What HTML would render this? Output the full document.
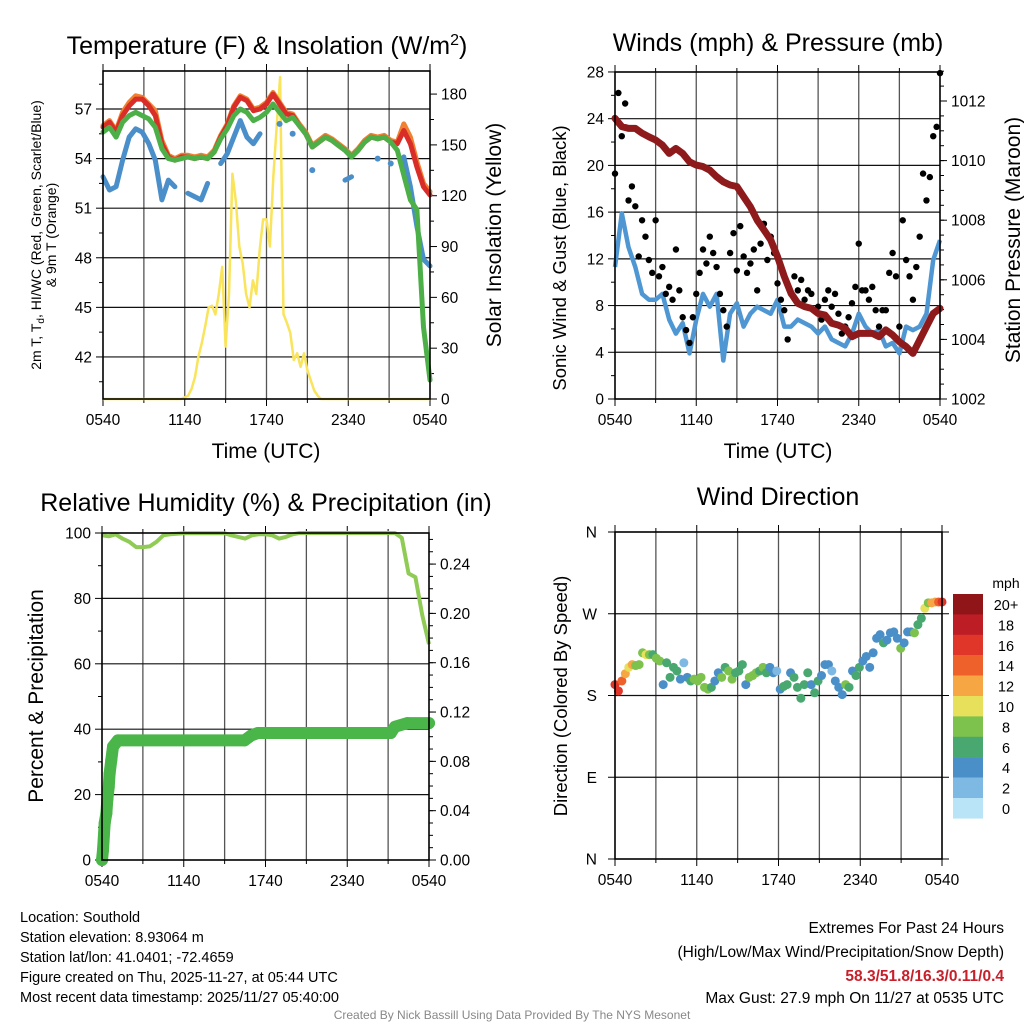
<!DOCTYPE html>
<html><head><meta charset="utf-8"><style>
body{margin:0;background:#fff;}
svg{display:block;font-family:"Liberation Sans",Arial,sans-serif;}
</style></head><body>
<svg id="c" width="1024" height="1024" viewBox="0 0 1024 1024" xmlns="http://www.w3.org/2000/svg">
<g id="g1"></g>
<g id="g2"></g>
<g id="g3"></g>
<g id="g4"></g>
<g id="txt">
<text x="20" y="922" font-size="14.5">Location: Southold</text>
<text x="20" y="942" font-size="14.5">Station elevation: 8.93064 m</text>
<text x="20" y="962" font-size="14.5">Station lat/lon: 41.0401; -72.4659</text>
<text x="20" y="982" font-size="14.5">Figure created on Thu, 2025-11-27, at 05:44 UTC</text>
<text x="20" y="1002" font-size="14.5">Most recent data timestamp: 2025/11/27 05:40:00</text>
<text x="1004" y="933" font-size="15.5" text-anchor="end">Extremes For Past 24 Hours</text>
<text x="1004" y="957" font-size="15.5" text-anchor="end">(High/Low/Max Wind/Precipitation/Snow Depth)</text>
<text x="1004" y="981" font-size="15.5" font-weight="bold" fill="#c8202a" text-anchor="end">58.3/51.8/16.3/0.11/0.4</text>
<text x="1004" y="1003" font-size="15.5" text-anchor="end">Max Gust: 27.9 mph On 11/27 at 0535 UTC</text>
<text x="512" y="1019" font-size="12" fill="#888" text-anchor="middle">Created By Nick Bassill Using Data Provided By The NYS Mesonet</text>
</g>
</svg>
<script>
// ---- data (half-hour steps unless noted) ----
const xTickLabels=["0540","1140","1740","2340","0540"];
const tempRed=[55.9,56.2,55.6,56.6,57.2,57.6,57.6,57.2,56.6,54.9,54.1,53.9,54.1,54.1,54.0,54.1,54.0,54.4,55.3,56.0,57.1,57.7,57.5,56.9,57.0,57.3,57.9,57.3,56.7,56.6,56.0,55.5,54.7,55.0,55.3,55.1,54.8,54.5,54.1,54.5,55.0,55.3,55.2,55.3,55.0,54.9,55.7,54.9,53.5,52.3,51.8];
const tempOrange=[56.0,56.3,55.7,56.8,57.4,57.8,57.7,57.3,56.9,55.1,54.2,54.0,54.2,54.2,54.1,54.2,54.1,54.5,55.4,56.1,57.2,57.8,57.6,57.0,57.1,57.4,58.0,57.4,56.8,56.7,56.1,55.6,54.8,55.1,55.4,55.2,54.9,54.6,54.2,54.6,55.1,55.4,55.3,55.4,55.1,55.0,56.1,55.3,53.8,52.5,52.0];
const tempGreen=[55.6,55.9,55.3,56.2,56.6,56.8,56.6,56.4,55.9,54.6,54.0,53.9,54.0,54.1,54.0,54.1,54.0,54.4,55.2,55.8,56.6,57.0,56.8,56.3,56.5,56.8,57.3,56.8,56.3,56.5,56.0,55.5,54.7,55.0,55.3,55.1,54.8,54.5,54.1,54.5,55.0,55.3,55.2,55.3,55.0,54.5,53.0,51.5,50.9,43.8,40.6];
const dewBlue=[52.9,52.1,52.3,53.9,55.3,55.8,55.6,54.9,53.9,51.5,52.7,52.3,null,51.9,51.7,51.5,52.5,null,53.7,54.3,55.3,56.3,55.3,54.9,55.5,null,null,56.1,null,55.5,null,null,53.3,null,null,null,null,52.7,52.9,null,null,null,54.0,null,53.7,null,54.1,52.3,49.9,47.9,47.5];
// insolation, quarter-hour steps (97 values)
const solar=[0,0,0,0,0,0,0,0,0,0,0,0,0,0,0,0,0,0,0,0,0,0,0,0,1,2,6,13,25,33,43,54,55,50,62,78,31,62,133,117,90,80,62,54,70,62,88,106,106,90,131,161,190,50,45,39,23,27,19,27,17,11,5,2,0,0,0,0,0,0,0,0,0,0,0,0,0,0,0,0,0,0,0,0,0,0,0,0,0,0,0,0,0,0,0,0,0];
const windSonic=[11.3,15.9,13.0,11.3,9.0,8.5,8.5,9.0,6.8,5.6,6.5,3.9,6.8,9.0,7.9,9.0,3.3,7.3,8.2,6.2,7.3,7.9,7.6,7.3,8.5,6.2,6.2,6.8,6.5,6.2,5.6,6.2,5.1,4.8,4.5,5.6,7.3,6.2,5.6,5.9,4.5,4.8,3.9,6.2,5.9,6.2,7.3,11.9,13.6];
// gusts, quarter-hour steps
const windGust=[19.3,26.2,22.5,25.3,17.0,18.2,16.5,12.2,15.3,13.9,11.9,10.8,15.3,10.5,11.3,9.0,9.6,8.5,12.8,9.3,7.0,5.9,4.8,7.0,9.0,10.8,12.8,11.6,13.9,12.5,11.3,9.0,7.6,6.2,12.5,14.2,11.0,14.8,12.2,10.8,11.6,12.8,9.3,13.3,15.0,11.9,13.9,12.5,9.9,8.5,7.6,5.1,9.0,10.5,9.3,10.2,8.5,9.3,9.0,7.6,7.9,6.8,8.5,9.3,7.9,9.0,7.3,5.6,6.2,7.0,8.2,9.6,13.3,9.3,9.3,8.5,9.6,7.6,6.2,7.6,7.6,10.8,12.5,10.5,6.2,15.3,11.9,10.5,8.5,11.3,13.9,19.3,17.0,19.0,22.5,23.3,27.9];
const pressure=[1011.42,1011.14,1011.08,1011.08,1010.92,1010.80,1010.69,1010.52,1010.24,1010.41,1010.24,1009.96,1009.85,1009.80,1009.68,1009.46,1009.29,1009.18,1009.13,1008.79,1008.45,1008.00,1007.67,1007.34,1006.78,1006.11,1005.55,1005.21,1005.10,1005.04,1004.87,1004.82,1004.54,1004.48,1004.37,1004.09,1004.20,1004.20,1004.20,1004.09,1004.32,1004.15,1003.92,1003.76,1003.53,1003.98,1004.43,1004.87,1005.04];
const rh=[99.3,99,99.6,98.3,97.3,95.7,95.7,95.9,97.3,99.3,99.6,99.8,99.9,99.9,99.9,99.9,99.9,99.9,99.9,99.3,98.8,98.3,99.3,99.6,99.6,99.3,98.3,98.8,99.6,100,100,100,100,100,100,100,100,100,100,100,100,100,100,100,98.5,87.6,86.5,75,66];
const precipHours=[0,0.07,0.2,0.32,0.39,0.49,0.56,0.68,0.81,1.17,10.46,10.95,11.44,21.2,21.5,22.4,24];
const precipVals=[0,0.008,0.030,0.038,0.049,0.059,0.070,0.081,0.092,0.097,0.097,0.101,0.103,0.103,0.108,0.111,0.111];
const windDir=[192,185,196,204,211,214,213,214,227,225,225,225,221,218,192,216,200,211,207,198,216,200,196,198,196,200,189,187,189,196,205,200,211,207,198,205,207,214,192,200,202,205,207,211,205,211,205,207,187,190,192,205,200,189,177,192,205,192,183,196,202,214,214,207,196,189,181,192,189,207,202,211,218,223,211,227,243,247,238,241,249,250,243,232,238,250,250,249,258,265,276,282,282,283,283,283];
const windDirSpeed=[17,17,15,13,11,13,9,9,9,11,9,7,9,9,5,7,7,7,7,5,3,5,7,9,9,9,9,9,7,5,5,9,7,9,9,7,7,7,5,9,9,9,7,9,7,5,5,3,5,7,7,5,7,7,7,7,7,5,7,7,5,5,5,3,5,5,5,9,7,5,7,7,5,5,5,5,5,5,7,5,5,5,5,9,5,5,5,9,7,7,11,9,13,13,15,17];
const cbLabels=["20+","18","16","14","12","10","8","6","4","2","0"];
const cbColors=["#8f1519","#bd1d24","#df3629","#ef612b","#f6a744","#e6e05a","#7cc24c","#49a870","#4a8fc7","#7db9e3","#b9e4f8"];

const NS="http://www.w3.org/2000/svg";
const TS=15.5;
function el(parent,tag,attrs){const e=document.createElementNS(NS,tag);for(const k in attrs)e.setAttribute(k,attrs[k]);parent.appendChild(e);return e;}
function txt(parent,x,y,s,size,anchor,extra){const t=el(parent,'text',Object.assign({x:x,y:y,'font-size':size,'text-anchor':anchor||'start'},extra||{}));t.textContent=s;return t;}
function safe(f){return v=>v==null?null:f(v);}

function frame(g,P){
  for(let h=3;h<24;h+=3){const x=P.x0+(P.x1-P.x0)*h/24;const l=el(g,'line',{x1:x,x2:x,y1:P.yT,y2:P.yB,stroke:'#555','stroke-width':1.3});
  
  }
  for(let h=0;h<=24;h+=3){const x=P.x0+(P.x1-P.x0)*h/24;const len=h%6==0?7:4;
    el(g,'line',{x1:x,x2:x,y1:P.yB,y2:P.yB+len,stroke:'#000','stroke-width':1});
    el(g,'line',{x1:x,x2:x,y1:P.yT,y2:P.yT-len,stroke:'#000','stroke-width':1});}
  xTickLabels.forEach((s,i)=>{const x=P.x0+(P.x1-P.x0)*i/4;const t=txt(g,x,P.yB+26,s,TS,'middle');
    
    });
}
function hgrid(g,P,y){const l=el(g,'line',{x1:P.x0,x2:P.x1,y1:y,y2:y,stroke:'#111','stroke-width':1.2});
  
  }
function border(g,P){const r=el(g,'rect',{x:P.x0,y:P.yT,width:P.x1-P.x0,height:P.yB-P.yT,fill:'none',stroke:'#000','stroke-width':1.6});
  
  }
function yTicks(g,x,side,vals,minors,scale,fmt,size){
  const d=side=='L'?-1:1;
  minors.forEach(v=>el(g,'line',{x1:x,x2:x+d*4,y1:scale(v),y2:scale(v),stroke:'#000','stroke-width':1}));
  vals.forEach(v=>{el(g,'line',{x1:x,x2:x+d*7,y1:scale(v),y2:scale(v),stroke:'#000','stroke-width':1});
    const t=txt(g,x+d*11,scale(v)+5.5,fmt(v),size||TS,side=='L'?'end':'start');
    
    });
}
function range(a,b,s){const r=[];for(let v=a;v<=b+1e-9;v+=s)r.push(+v.toFixed(4));return r;}
function linePath(xs,ys){let d='',pen=false;for(let i=0;i<xs.length;i++){if(ys[i]==null){pen=false;continue;}d+=(pen?'L':'M')+xs[i].toFixed(1)+','+ys[i].toFixed(1);pen=true;}return d;}

// ---------- Panel 1 ----------
(function(){
const g=document.getElementById('g1');
const P={x0:103,x1:430,yT:71,yB:399};
const X=(i,n)=>P.x0+(P.x1-P.x0)*i/(n-1);
const Y=T=>109+(57-T)*16.53;
const YW=w=>399-w*1.694;
frame(g,P);
[42,45,48,51,54,57].forEach(v=>hgrid(g,P,Y(v)));
yTicks(g,P.x0,'L',[42,45,48,51,54,57],range(40.5,58.5,3),Y,v=>String(v));
yTicks(g,P.x1,'R',range(0,180,30),range(15,180,30),YW,v=>String(v));
const sx=solar.map((v,i)=>X(i,solar.length));
let p=el(g,'path',{d:linePath(sx,solar.map(YW)),fill:'none',stroke:'#f9e45b','stroke-width':2.5,'stroke-linejoin':'round'});


const db=dewBlue.map(safe(Y)), dx=dewBlue.map((v,i)=>X(i,dewBlue.length));
p=el(g,'path',{d:linePath(dx,db),fill:'none',stroke:'#4a8fc9','stroke-width':5,'stroke-linecap':'round','stroke-linejoin':'round'});


dewBlue.forEach((v,i)=>{if(v!=null&&(dewBlue[i-1]==null)&&(dewBlue[i+1]==null)){const c=el(g,'circle',{cx:dx[i],cy:db[i],r:3,fill:'#4a8fc9'});
  
  }});
[[tempOrange,'#f08133','nine-meter-temp-line'],[tempRed,'#d92d27','temperature-line'],[tempGreen,'#4caf47','heat-index-line']].forEach(s=>{
  const xs=s[0].map((v,i)=>X(i,s[0].length));
  const q=el(g,'path',{d:linePath(xs,s[0].map(Y)),fill:'none',stroke:s[1],'stroke-width':5,'stroke-linejoin':'round','stroke-linecap':'round'});
  
  });
border(g,P);
let t=txt(g,267,54,'',25,'middle');t.innerHTML='Temperature (F) &amp; Insolation (W/m<tspan dy="-9" font-size="16">2</tspan><tspan dy="9">)</tspan>';

t=txt(g,266,458,'Time (UTC)',21,'middle');
t=txt(g,0,0,'',14,'middle',{transform:'translate(41,235) rotate(-90)'});t.innerHTML='2m T, T<tspan dy="3" font-size="10">d</tspan><tspan dy="-3">, HI/WC (Red, Green, Scarlet/Blue)</tspan>';

t=txt(g,0,0,'& 9m T (Orange)',14,'middle',{transform:'translate(56,235) rotate(-90)'});
t=txt(g,0,0,'Solar Insolation (Yellow)',21,'middle',{transform:'translate(501,235) rotate(-90)'});
})();

// ---------- Panel 2 ----------
(function(){
const g=document.getElementById('g2');
const P={x0:615,x1:940,yT:72,yB:399};
const X=(i,n)=>P.x0+(P.x1-P.x0)*i/(n-1);
const Y=m=>399-m*11.68;
const YP=mb=>399-(mb-1002)*29.8;
frame(g,P);
[4,8,12,16,20,24].forEach(v=>hgrid(g,P,Y(v)));
yTicks(g,P.x0,'L',range(0,28,4),range(2,26,4),Y,v=>String(v));
yTicks(g,P.x1,'R',range(1002,1012,2),range(1002,1013,0.5),YP,v=>String(v));
let p=el(g,'path',{d:linePath(windSonic.map((v,i)=>X(i,windSonic.length)),windSonic.map(Y)),fill:'none',stroke:'#4f97d3','stroke-width':4.5,'stroke-linejoin':'round'});


windGust.forEach((v,i)=>{const c=el(g,'circle',{cx:X(i,windGust.length),cy:Y(v),r:3.2,fill:'#000'});
  
  });
p=el(g,'path',{d:linePath(pressure.map((v,i)=>X(i,pressure.length)),pressure.map(YP)),fill:'none',stroke:'#8e1a1c','stroke-width':7,'stroke-linejoin':'round','stroke-linecap':'round'});


border(g,P);
let t=txt(g,778,51,'Winds (mph) & Pressure (mb)',25,'middle');
t=txt(g,778,458,'Time (UTC)',21,'middle');
t=txt(g,0,0,'Sonic Wind & Gust (Blue, Black)',18.5,'middle',{transform:'translate(566,258) rotate(-90)'});
t=txt(g,0,0,'Station Pressure (Maroon)',21,'middle',{transform:'translate(1020,240) rotate(-90)'});
})();

// ---------- Panel 3 ----------
(function(){
const g=document.getElementById('g3');
const P={x0:102,x1:429,yT:533,yB:860};
const X=(i,n)=>P.x0+(P.x1-P.x0)*i/(n-1);
const XH=h=>P.x0+(P.x1-P.x0)*h/24;
const Y=r=>860-r*3.27;
const YI=v=>860-v*1233;
frame(g,P);
[20,40,60,80].forEach(v=>hgrid(g,P,Y(v)));
yTicks(g,P.x0,'L',range(0,100,20),range(10,90,20),Y,v=>String(v));
yTicks(g,P.x1,'R',range(0,0.24,0.04),range(0.01,0.26,0.01),YI,v=>v.toFixed(2));
let p=el(g,'path',{d:linePath(rh.map((v,i)=>X(i,rh.length)),rh.map(Y)),fill:'none',stroke:'#8fcb55','stroke-width':4,'stroke-linejoin':'round'});


p=el(g,'path',{d:linePath(precipHours.map(XH),precipVals.map(YI)),fill:'none',stroke:'#4ab548','stroke-width':12,'stroke-linejoin':'round','stroke-linecap':'round'});


precipHours.forEach((h,i)=>{const c=el(g,'circle',{cx:XH(h),cy:YI(precipVals[i]),r:6,fill:'#4ab548'});
  
  });
border(g,P);
let t=txt(g,266,511,'Relative Humidity (%) & Precipitation (in)',25,'middle');
t=txt(g,0,0,'Percent & Precipitation',21,'middle',{transform:'translate(43,696) rotate(-90)'});
})();

// ---------- Panel 4 ----------
(function(){
const g=document.getElementById('g4');
const P={x0:615,x1:942,yT:532,yB:859};
const X=(i,n)=>P.x0+(P.x1-P.x0)*i/(n-1);
const Y=d=>859-d*327/360;
frame(g,P);
[90,180,270].forEach(v=>hgrid(g,P,Y(v)));
const dl=["N","E","S","W","N"];
[0,90,180,270,360].forEach((v,i)=>{el(g,'line',{x1:P.x0,x2:P.x0-7,y1:Y(v),y2:Y(v),stroke:'#000'});el(g,'line',{x1:P.x1,x2:P.x1+7,y1:Y(v),y2:Y(v),stroke:'#000'});
  const t=txt(g,P.x0-18,Y(v)+5.5,dl[i],TS,'end');
  
  });
function col(s){const b=Math.min(10,Math.floor(s/2));return cbColors[10-b];}
windDir.forEach((d,i)=>{const c=el(g,'circle',{cx:X(i,windDir.length),cy:Y(d),r:4.5,fill:col(windDirSpeed[i])});
  
  });
border(g,P);
let t=txt(g,778,505,'Wind Direction',25,'middle');
t=txt(g,0,0,'Direction (Colored By Speed)',18.5,'middle',{transform:'translate(567,696) rotate(-90)'});
const lg=el(g,'g',{});


t=txt(lg,1006,588,'mph',14,'middle');
cbColors.forEach((c,i)=>{const r=el(lg,'rect',{x:953,y:594+i*20.4,width:30,height:20.6,fill:c});
  
  
  const l=txt(lg,1006,594+i*20.4+16,cbLabels[i],14.5,'middle');
  
  });
})();
</script>
</body></html>
